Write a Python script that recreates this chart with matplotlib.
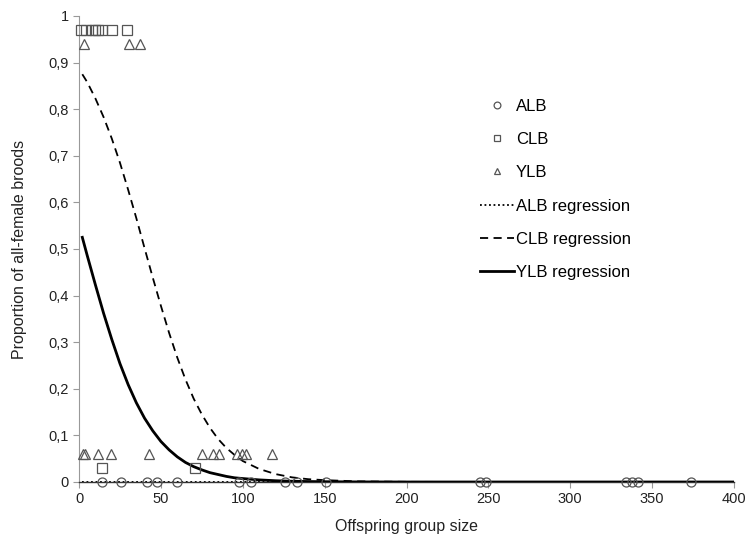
import matplotlib.pyplot as plt

plt.rcParams['font.family'] = ['Liberation Sans', 'DejaVu Sans']

# observed broods (offspring group size, proportion of all-female broods)
alb_x = [13.9, 25.6, 41.7, 47.4, 59.7, 97.9, 104.9, 125.8, 132.9, 150.8,
         244.9, 248.5, 333.9, 337.6, 341.2, 373.7]
alb_y = [0] * len(alb_x)

clb_x = [1, 4.3, 7.7, 9.8, 11.6, 13.9, 19.9, 29, 13.9, 70.8]
clb_y = [0.97, 0.97, 0.97, 0.97, 0.97, 0.97, 0.97, 0.97, 0.03, 0.03]

ylb_x = [3, 30.5, 37, 2.3, 3.7, 11.8, 19.4, 42.9, 74.9, 81.6, 85.7, 96.7,
         99.4, 102, 117.7]
ylb_y = [0.94, 0.94, 0.94, 0.06, 0.06, 0.06, 0.06, 0.06, 0.06, 0.06, 0.06,
         0.06, 0.06, 0.06, 0.06]

# regression curves
reg_x = [2, 5, 10, 15, 20, 25, 30, 35, 40, 45, 50, 55, 60, 65, 70, 75, 80,
         85, 90, 95, 100, 110, 120, 130, 140, 150, 170, 200, 250, 300, 350, 400]
alb_reg = [0] * len(reg_x)
clb_reg = [0.875, 0.858, 0.823, 0.783, 0.737, 0.685, 0.627, 0.566, 0.502,
           0.439, 0.378, 0.320, 0.267, 0.220, 0.179, 0.145, 0.116, 0.092,
           0.073, 0.058, 0.045, 0.028, 0.017, 0.010, 0.006, 0.004, 0.0013,
           0.0003, 0, 0, 0, 0]
ylb_reg = [0.525, 0.486, 0.423, 0.362, 0.306, 0.254, 0.209, 0.170, 0.137,
           0.110, 0.087, 0.069, 0.054, 0.042, 0.033, 0.026, 0.020, 0.016,
           0.012, 0.009, 0.0074, 0.0045, 0.0027, 0.0016, 0.001, 0.0006,
           0.0002, 0, 0, 0, 0, 0]

fig = plt.figure(figsize=(7.47, 5.38), dpi=100)
ax = fig.add_axes([0.1058, 0.1041, 0.8768, 0.8662])

grey = '#555555'
mk = dict(linestyle='none', markerfacecolor='none', markeredgecolor=grey,
          markeredgewidth=0.9, markersize=6.5, clip_on=False, zorder=4)
ax.plot(alb_x, alb_y, marker='o', label='ALB', **mk)
ax.plot(clb_x, clb_y, marker='s', label='CLB', **mk)
ax.plot(ylb_x, ylb_y, marker='^', label='YLB', **mk)

ax.plot(reg_x, alb_reg, color='black', linestyle=(0, (1, 1.5)), lw=1.3,
        label='ALB regression', zorder=3)
ax.plot(reg_x, clb_reg, color='black', linestyle=(0, (4.5, 3)), lw=1.3,
        label='CLB regression', zorder=3)
ax.plot(reg_x, ylb_reg, color='black', linestyle='-', lw=2.0,
        label='YLB regression', zorder=3)

ax.set_xlim(0, 400)
ax.set_ylim(0, 1)
ax.set_xticks(range(0, 401, 50))
yt = [i / 10 for i in range(11)]
ax.set_yticks(yt)
ax.set_yticklabels(['0'] + [('%.1f' % v).replace('.', ',') for v in yt[1:-1]] + ['1'])

for s in ['top', 'right']:
    ax.spines[s].set_visible(False)
ax.spines['left'].set_color('#999999')
ax.spines['bottom'].set_color('#333333')
ax.spines['bottom'].set_linewidth(1.0)
ax.tick_params(axis='both', direction='out', length=4, color='#999999',
               labelsize=10.5, labelcolor='#222222')

ax.set_xlabel('Offspring group size', fontsize=11.5, color='#222222', labelpad=9)
ax.set_ylabel('Proportion of all-female broods', fontsize=11.5, color='#222222',
              labelpad=15)

leg = ax.legend(loc='upper left', bbox_to_anchor=(0.59, 0.855), frameon=False,
                fontsize=12, handlelength=2.0, labelspacing=1.1,
                handletextpad=0.12, markerscale=0.75)

fig.savefig('out.png', dpi=100)
